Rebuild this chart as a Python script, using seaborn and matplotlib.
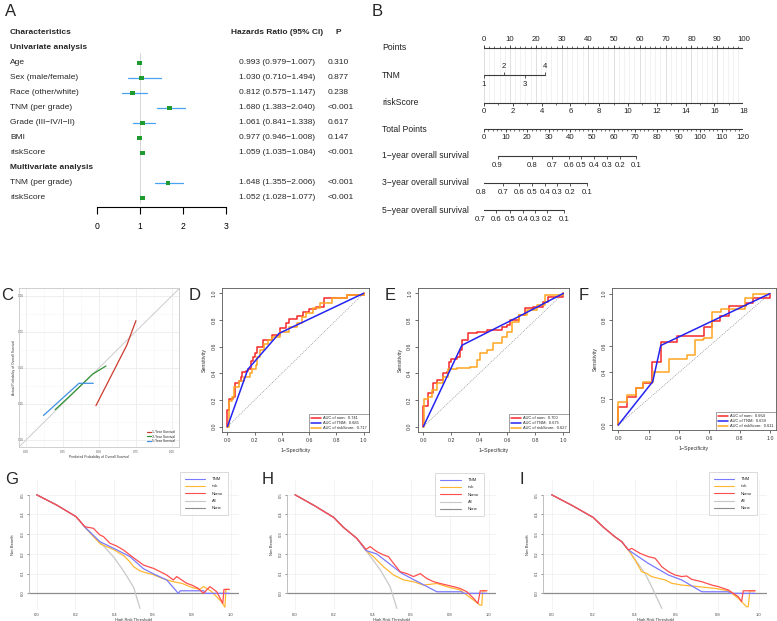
import matplotlib
matplotlib.use("Agg")
import matplotlib.pyplot as plt
import matplotlib.transforms as mtransforms
from matplotlib.lines import Line2D
import seaborn as sns

sns.set_theme(style="white")
plt.rcParams["font.family"] = ["Liberation Sans", "DejaVu Sans"]
plt.rcParams["axes.unicode_minus"] = True

# ---------------- data ----------------
# A: Cox regression (forest plot)
fp_labels = ["Age", "Sex (male/female)", "Race (other/white)", "TNM (per grade)",
             "Grade (III\u2212IV/I\u2212II)", "BMI", "riskScore", "TNM (per grade)", "riskScore"]
fp_hr = [0.993, 1.030, 0.812, 1.680, 1.061, 0.977, 1.059, 1.648, 1.052]
fp_lo = [0.979, 0.710, 0.575, 1.383, 0.841, 0.946, 1.035, 1.355, 1.028]
fp_hi = [1.007, 1.494, 1.147, 2.040, 1.338, 1.008, 1.084, 2.006, 1.077]
fp_p = ["0.310", "0.877", "0.238", "<0.001", "0.617", "0.147", "<0.001", "<0.001", "<0.001"]
fp_rows = [2, 3, 4, 5, 6, 7, 8, 10, 11]

# B: nomogram
pts_ticks = [0, 10, 20, 30, 40, 50, 60, 70, 80, 90, 100]
tnm_levels = ["1", "2", "3", "4"]
tnm_points = [0, 7.8, 15.7, 23.6]
risk_ticks = [0, 2, 4, 6, 8, 10, 12, 14, 16, 18]
total_ticks = [0, 10, 20, 30, 40, 50, 60, 70, 80, 90, 100, 110, 120]
surv1_prob = [0.9, 0.8, 0.7, 0.6, 0.5, 0.4, 0.3, 0.2, 0.1]
surv1_tp = [6.3, 22.1, 31.6, 39.2, 45.0, 51.0, 56.9, 62.9, 70.3]
surv3_prob = [0.8, 0.7, 0.6, 0.5, 0.4, 0.3, 0.2, 0.1]
surv3_tp = [-1.1, 9.0, 16.0, 22.4, 28.1, 33.9, 39.9, 47.5]
surv5_prob = [0.7, 0.6, 0.5, 0.4, 0.3, 0.2, 0.1]
surv5_tp = [-1.8, 5.7, 11.9, 17.9, 23.6, 29.3, 37.2]

# C: calibration
cal1_pred = [0.479, 0.690, 0.753]
cal1_obs = [0.238, 0.656, 0.827]
cal3_pred = [0.20, 0.308, 0.457, 0.548]
cal3_obs = [0.21, 0.312, 0.457, 0.513]
cal5_pred = [0.12, 0.363, 0.461]
cal5_obs = [0.17, 0.393, 0.393]

# D-F: ROC (fpr, tpr)
rocD_nom = ([0, 0, 0.015, 0.04, 0.059, 0.088, 0.1, 0.109, 0.138, 0.15, 0.17, 0.19, 0.2, 0.217, 0.26,
             0.33, 0.385, 0.43, 0.454, 0.51, 0.558, 0.6, 0.652, 0.706, 0.88, 1.0],
            [0, 0.125, 0.21, 0.22, 0.325, 0.34, 0.375, 0.41, 0.415, 0.435, 0.49, 0.52, 0.55, 0.60, 0.65,
             0.69, 0.738, 0.775, 0.81, 0.83, 0.863, 0.88, 0.9, 0.963, 0.99, 1.0])
rocD_tnm = ([0, 0.15, 0.38, 1.0], [0, 0.43, 0.70, 1.0])
rocD_risk = ([0, 0.01, 0.035, 0.05, 0.088, 0.12, 0.163, 0.18, 0.207, 0.22, 0.237, 0.27, 0.3, 0.324,
              0.385, 0.45, 0.51, 0.55, 0.58, 0.63, 0.68, 0.77, 0.88, 1.0],
             [0, 0.19, 0.22, 0.3, 0.34, 0.37, 0.4, 0.43, 0.46, 0.52, 0.575, 0.62, 0.65, 0.675,
              0.71, 0.745, 0.775, 0.82, 0.85, 0.89, 0.925, 0.963, 0.99, 1.0])
rocE_nom = ([0, 0, 0.036, 0.071, 0.095, 0.138, 0.167, 0.184, 0.2, 0.24, 0.262, 0.274, 0.321, 0.381,
             0.452, 0.56, 0.595, 0.62, 0.68, 0.726, 0.786, 0.857, 0.893, 1.0],
            [0, 0.155, 0.25, 0.325, 0.35, 0.4, 0.41, 0.488, 0.51, 0.52, 0.575, 0.65, 0.70, 0.71,
             0.725, 0.75, 0.76, 0.8, 0.838, 0.888, 0.9, 0.938, 0.975, 1.0])
rocE_tnm = ([0, 0.275, 0.68, 1.0], [0, 0.61, 0.825, 1.0])
rocE_risk = ([0, 0.007, 0.036, 0.06, 0.095, 0.143, 0.179, 0.238, 0.333, 0.381, 0.405, 0.452, 0.5,
              0.56, 0.595, 0.631, 0.68, 0.74, 0.81, 0.869, 1.0],
             [0, 0.21, 0.225, 0.275, 0.325, 0.375, 0.43, 0.438, 0.45, 0.50, 0.55, 0.575, 0.625,
              0.675, 0.713, 0.788, 0.838, 0.875, 0.913, 0.988, 1.0])
rocF_nom = ([0, 0, 0.06, 0.115, 0.165, 0.22, 0.28, 0.39, 0.565, 0.62, 0.671, 0.731, 0.84, 0.89, 1.0],
            [0, 0.14, 0.21, 0.28, 0.32, 0.48, 0.635, 0.675, 0.743, 0.793, 0.83, 0.906, 0.93, 0.97, 1.0])
rocF_tnm = ([0, 0.227, 0.28, 1.0], [0, 0.33, 0.605, 1.0])
rocF_risk = ([0, 0, 0.055, 0.115, 0.165, 0.231, 0.337, 0.45, 0.506, 0.561, 0.565, 0.616, 0.675,
              0.835, 0.89, 1.0],
             [0, 0.175, 0.225, 0.28, 0.33, 0.40, 0.505, 0.53, 0.643, 0.655, 0.665, 0.857, 0.88,
              0.97, 0.995, 1.0])
aucD = [0.741, 0.685, 0.717]
aucE = [0.700, 0.675, 0.627]
aucF = [0.664, 0.639, 0.611]

# G-I: decision curves (threshold, net benefit)
dcaG_nom = ([0, 0.103, 0.203, 0.249, 0.292, 0.326, 0.344, 0.378, 0.412, 0.447, 0.481, 0.515, 0.55, 0.575,
             0.601, 0.636, 0.67, 0.704, 0.722, 0.747, 0.773, 0.799, 0.833, 0.859, 0.893, 0.928, 0.959,
             0.965, 0.993],
            [0.5, 0.448, 0.389, 0.338, 0.33, 0.296, 0.288, 0.254, 0.24, 0.22, 0.194, 0.169, 0.144, 0.135,
             0.127, 0.11, 0.093, 0.068, 0.085, 0.068, 0.051, 0.042, 0.025, 0.0, 0.034, 0.008, -0.051,
             0.02, 0.02])
dcaG_tnm = ([0, 0.103, 0.203, 0.249, 0.326, 0.404, 0.481, 0.55, 0.6, 0.67, 0.73, 0.74, 0.86, 0.87, 0.993],
            [0.5, 0.448, 0.389, 0.335, 0.262, 0.225, 0.186, 0.125, 0.1, 0.068, 0.0, 0.013, 0.013, 0.0, 0.0])
dcaG_risk = ([0, 0.103, 0.203, 0.249, 0.3, 0.33, 0.4, 0.45, 0.48, 0.5, 0.53, 0.56, 0.6, 0.65, 0.7, 0.75,
              0.8, 0.84, 0.86, 0.9, 0.95, 0.97, 0.975, 0.99],
             [0.5, 0.448, 0.389, 0.335, 0.28, 0.25, 0.22, 0.19, 0.16, 0.135, 0.115, 0.105, 0.095, 0.075,
              0.06, 0.05, 0.03, 0.02, 0.035, 0.01, -0.04, -0.07, 0.02, 0.02])
dcaG_all = ([0, 0.103, 0.203, 0.249, 0.3, 0.35, 0.4, 0.45, 0.5, 0.532],
            [0.5, 0.448, 0.389, 0.338, 0.285, 0.235, 0.18, 0.11, 0.03, -0.076])

dcaH_nom = ([0, 0.1, 0.2, 0.25, 0.319, 0.367, 0.388, 0.422, 0.457, 0.483, 0.509, 0.543, 0.578, 0.612,
             0.647, 0.681, 0.716, 0.75, 0.784, 0.819, 0.853, 0.888, 0.922, 0.945, 0.957, 0.991],
            [0.5, 0.445, 0.385, 0.335, 0.279, 0.223, 0.237, 0.212, 0.195, 0.186, 0.152, 0.11, 0.1, 0.085,
             0.1, 0.075, 0.059, 0.05, 0.042, 0.034, 0.025, 0.008, -0.025, -0.051, 0.013, 0.013])
dcaH_tnm = ([0, 0.1, 0.2, 0.25, 0.319, 0.367, 0.422, 0.552, 0.733, 0.86, 0.87, 0.991],
            [0.5, 0.445, 0.385, 0.335, 0.279, 0.217, 0.2, 0.101, 0.008, 0.008, 0.0, 0.0])
dcaH_risk = ([0, 0.1, 0.2, 0.25, 0.319, 0.367, 0.405, 0.457, 0.509, 0.561, 0.612, 0.664, 0.733, 0.784,
              0.853, 0.922, 0.957, 0.965, 0.97, 0.991],
             [0.5, 0.445, 0.385, 0.335, 0.279, 0.217, 0.186, 0.135, 0.093, 0.068, 0.059, 0.042, 0.05,
              0.034, 0.017, -0.034, -0.06, -0.06, 0.013, 0.013])
dcaH_all = ([0, 0.1, 0.2, 0.25, 0.319, 0.367, 0.44, 0.491, 0.526],
            [0.5, 0.445, 0.385, 0.335, 0.279, 0.217, 0.12, 0.034, -0.076])

dcaI_nom = ([0, 0.1, 0.2, 0.25, 0.305, 0.338, 0.37, 0.386, 0.426, 0.466, 0.499, 0.531, 0.563, 0.595,
             0.627, 0.651, 0.675, 0.724, 0.772, 0.804, 0.852, 0.9, 0.916, 0.924, 0.981],
            [0.5, 0.445, 0.385, 0.335, 0.287, 0.262, 0.22, 0.228, 0.203, 0.186, 0.178, 0.135, 0.11, 0.093,
             0.085, 0.088, 0.071, 0.059, 0.042, 0.034, 0.017, -0.017, -0.042, 0.013, 0.013])
dcaI_tnm = ([0, 0.1, 0.2, 0.25, 0.305, 0.338, 0.37, 0.466, 0.563, 0.627, 0.724, 0.852, 0.86, 0.981],
            [0.5, 0.445, 0.385, 0.335, 0.287, 0.262, 0.22, 0.152, 0.093, 0.068, 0.008, 0.008, 0.0, 0.0])
dcaI_risk = ([0, 0.1, 0.2, 0.25, 0.305, 0.338, 0.37, 0.402, 0.434, 0.458, 0.482, 0.515, 0.547, 0.579,
              0.627, 0.708, 0.788, 0.852, 0.9, 0.94, 0.948, 0.956, 0.981],
             [0.5, 0.445, 0.385, 0.335, 0.287, 0.262, 0.22, 0.169, 0.11, 0.101, 0.085, 0.076, 0.068,
              0.051, 0.042, 0.034, 0.025, 0.013, -0.025, -0.068, -0.068, 0.013, 0.013])
dcaI_all = ([0, 0.1, 0.2, 0.25, 0.305, 0.338, 0.37, 0.45, 0.482, 0.531],
            [0.5, 0.445, 0.385, 0.335, 0.287, 0.262, 0.22, 0.101, 0.034, -0.076])

dca_names = ["TNM", "risk", "Nomo", "All", "None"]

# ---------------- layout helpers ----------------
W, H = 777, 621
fig = plt.figure(figsize=(W / 100, H / 100), dpi=100)
fig.patch.set_facecolor("white")


def box(x0, y0, x1, y1):
    return [x0 / W, 1 - y1 / H, (x1 - x0) / W, (y1 - y0) / H]


def fx(px):
    return px / W


for letter, (px, py) in {"A": (11, 11), "B": (377, 11), "C": (7, 296), "D": (195, 296),
                         "E": (390, 296), "F": (584, 296), "G": (12, 480), "H": (268, 480),
                         "I": (522, 479)}.items():
    fig.text(px / W, 1 - py / H, letter, fontsize=12, ha="center", va="center")

# ---------------- A: forest plot ----------------
axA = fig.add_axes(box(97.3, 25, 226, 207))
axA.set_xlim(0, 3)
axA.set_ylim(11.6, -0.53)
axA.plot([1, 1], [1.35, 11.35], color="#d5d5d5", lw=0.7, zorder=1)
for r, lo, hi in zip(fp_rows, fp_lo, fp_hi):
    axA.plot([lo, hi], [r, r], color="#4aa3f0", lw=0.9, zorder=2)
sns.scatterplot(x=fp_hr, y=fp_rows, marker="s", s=12, color="#1f9a2e", edgecolor="none",
                linewidth=0, ax=axA, zorder=3, legend=False)
for s in ["top", "right", "left"]:
    axA.spines[s].set_visible(False)
axA.spines["bottom"].set_bounds(0, 3)
axA.spines["bottom"].set_color("black")
axA.spines["bottom"].set_linewidth(0.8)
axA.set_xticks([0, 1, 2, 3])
axA.set_yticks([])
axA.tick_params(axis="x", direction="out", length=5, width=0.8, pad=6, labelsize=6.2, colors="black",
                bottom=True)
tA = mtransforms.blended_transform_factory(fig.transFigure, axA.transData)
fsA = 6.0
axA.text(fx(10), 0, "Characteristics", transform=tA, fontsize=fsA, weight="bold", va="center")
axA.text(fx(231), 0, "Hazards Ratio (95% CI)", transform=tA, fontsize=fsA, weight="bold", va="center")
axA.text(fx(335), 0, "P", transform=tA, fontsize=fsA, weight="bold", va="center")
axA.text(fx(10), 1, "Univariate analysis", transform=tA, fontsize=fsA, weight="bold", va="center")
axA.text(fx(10), 9, "Multivariate analysis", transform=tA, fontsize=fsA, weight="bold", va="center")
for r, lab, h, lo, hi, p in zip(fp_rows, fp_labels, fp_hr, fp_lo, fp_hi, fp_p):
    axA.text(fx(10), r, lab, transform=tA, fontsize=fsA, va="center")
    axA.text(fx(239), r, f"{h:.3f} ({lo:.3f}\u2212{hi:.3f})", transform=tA, fontsize=fsA, va="center")
    axA.text(fx(328), r, p, transform=tA, fontsize=fsA, va="center")

# ---------------- B: nomogram ----------------
axB = fig.add_axes(box(484, 25, 743.3, 228))
axB.set_xlim(0, 100)
axB.set_ylim(228, 25)
axB.axis("off")
tB = mtransforms.blended_transform_factory(fig.transFigure, axB.transData)
ink = "#3a3a3a"
fsB = 6.2
y_pts, y_tnm, y_risk, y_tot, y_s1, y_s3, y_s5 = 47.7, 75.3, 102.7, 129.3, 155.7, 182.7, 210

# faint vertical guide lines
for v in range(0, 101, 2):
    axB.plot([v, v], [y_pts, y_risk], color="#d9d9d9" if v % 10 == 0 else "#efefef", lw=0.6, zorder=0)

row_labels = [("Points", y_pts), ("TNM", y_tnm), ("riskScore", y_risk), ("Total Points", y_tot),
              ("1\u2212year overall survival", y_s1), ("3\u2212year overall survival", y_s3),
              ("5\u2212year overall survival", y_s5)]
for lab, yy in row_labels:
    axB.text(fx(382), yy, lab, transform=tB, fontsize=fsB, va="center", color="#222222")


def nomo_axis(y, xs, labels, up, minor=None, lab_off=8.5):
    axB.plot([min(xs), max(xs)], [y, y], color=ink, lw=0.8)
    s = -1 if up else 1
    if minor is not None:
        axB.vlines(minor, y, y + s * 1.8, color=ink, lw=0.5)
    axB.vlines(xs, y, y + s * 3, color=ink, lw=0.6)
    for x, lab in zip(xs, labels):
        axB.text(x, y + s * lab_off, lab, ha="center", va="center", fontsize=5.6, color="#222222")


nomo_axis(y_pts, pts_ticks, [str(v) for v in pts_ticks], up=True, minor=list(range(0, 101, 2)))
# TNM: alternating label sides
axB.plot([min(tnm_points), max(tnm_points)], [y_tnm, y_tnm], color=ink, lw=0.8)
for i, (x, lab) in enumerate(zip(tnm_points, tnm_levels)):
    s = 1 if i % 2 == 0 else -1
    axB.vlines(x, y_tnm, y_tnm + s * 3, color=ink, lw=0.6)
    axB.text(x, y_tnm + s * 9, lab, ha="center", va="center", fontsize=5.6, color="#222222")
nomo_axis(y_risk, [v * 100 / 18 for v in risk_ticks], [str(v) for v in risk_ticks], up=False,
          minor=[v * 100 / 18 for v in range(0, 19)])
nomo_axis(y_tot, [v * 100 / 120 for v in total_ticks], [str(v) for v in total_ticks], up=False,
          minor=[v * 100 / 120 for v in range(0, 121, 2)])
for yy, tp, pr in [(y_s1, surv1_tp, surv1_prob), (y_s3, surv3_tp, surv3_prob), (y_s5, surv5_tp, surv5_prob)]:
    nomo_axis(yy, [v * 100 / 120 for v in tp], [f"{p:.1f}" for p in pr], up=False, lab_off=9.5)

# ---------------- C: calibration ----------------
axC = fig.add_axes(box(18.7, 288.5, 179.3, 447.2))
axC.set_facecolor("white")
axC.set_xlim(-0.05, 1.05)
axC.set_ylim(-0.05, 1.05)
ct = [0, 0.25, 0.5, 0.75, 1.0]
axC.set_xticks(ct)
axC.set_yticks(ct)
axC.set_xticklabels([f"{v:.2f}" for v in ct])
axC.set_yticklabels([f"{v:.2f}" for v in ct])
axC.set_xticks([0.125, 0.375, 0.625, 0.875], minor=True)
axC.set_yticks([0.125, 0.375, 0.625, 0.875], minor=True)
axC.grid(which="major", color="#ebebeb", lw=0.6)
axC.grid(which="minor", color="#f5f5f5", lw=0.4)
axC.tick_params(which="both", length=1.2, width=0.4, labelsize=2.2, pad=0.8, colors="#555555")
axC.tick_params(axis="y", pad=-5.0)
axC.tick_params(which="minor", length=0)
for s in axC.spines.values():
    s.set_color("#c8c8c8")
    s.set_linewidth(0.6)
axC.plot([-0.05, 1.05], [-0.05, 1.05], color="#c4c4c4", lw=0.6, zorder=1)
sns.lineplot(x=cal1_pred, y=cal1_obs, ax=axC, color="#cc3b2e", lw=0.9, sort=False, estimator=None,
             label="1-Year Survival")
sns.lineplot(x=cal3_pred, y=cal3_obs, ax=axC, color="#2e9130", lw=0.9, sort=False, estimator=None,
             label="3-Year Survival")
sns.lineplot(x=cal5_pred, y=cal5_obs, ax=axC, color="#3f8fe0", lw=0.9, sort=False, estimator=None,
             label="5-Year Survival")
axC.legend(loc="lower right", fontsize=2.4, frameon=False, handlelength=1.2, handletextpad=0.5,
           labelspacing=0.2, borderaxespad=0.8)
axC.set_xlabel("Predicted Probability of Overall Survival", fontsize=2.4, labelpad=1, color="#333333")
axC.set_ylabel("Actual Probability of Overall Survival", fontsize=2.4, labelpad=1, color="#333333")

# ---------------- D-F: ROC ----------------
c_nom, c_tnm, c_risk = "#f52828", "#2424f2", "#ffa51f"


def draw_roc(rect, nom, tnm, risk, aucs):
    ax = fig.add_axes(rect)
    ax.set_facecolor("white")
    ax.set_xlim(-0.04, 1.04)
    ax.set_ylim(-0.04, 1.04)
    ax.plot([0, 1], [0, 1], color="#8f8f8f", lw=0.5, ls=(0, (1.5, 1.5)))
    sns.lineplot(x=nom[0], y=nom[1], ax=ax, color=c_nom, lw=1.1, drawstyle="steps-post",
                 sort=False, estimator=None)
    sns.lineplot(x=risk[0], y=risk[1], ax=ax, color=c_risk, lw=1.1, drawstyle="steps-post",
                 sort=False, estimator=None)
    sns.lineplot(x=tnm[0], y=tnm[1], ax=ax, color=c_tnm, lw=1.1, sort=False, estimator=None)
    tk = [0, 0.2, 0.4, 0.6, 0.8, 1.0]
    ax.set_xticks(tk)
    ax.set_yticks(tk)
    ax.set_xticklabels([f"{v:.1f}" for v in tk])
    ax.set_yticklabels([f"{v:.1f}" for v in tk], rotation=90, va="center")
    ax.tick_params(direction="out", length=2.5, width=0.5, labelsize=3.8, pad=1.5, colors="#333333",
                   bottom=True, left=True)
    for s in ax.spines.values():
        s.set_color("#555555")
        s.set_linewidth(0.6)
    ax.set_xlabel("1\u2212Specificity", fontsize=3.8, labelpad=4, color="#333333")
    ax.set_ylabel("Sensitivity", fontsize=3.8, labelpad=3, color="#333333")
    handles = [Line2D([], [], color=c, lw=1.1) for c in (c_nom, c_tnm, c_risk)]
    labels = [f"AUC of nom:  {aucs[0]:.3f}", f"AUC of TNM:  {aucs[1]:.3f}",
              f"AUC of riskScore:  {aucs[2]:.3f}"]
    leg = ax.legend(handles, labels, loc="lower right", fontsize=2.9, frameon=True, fancybox=False,
                    handlelength=2.6, handletextpad=0.5, labelspacing=0.25, borderaxespad=0,
                    borderpad=0.5)
    leg.get_frame().set_edgecolor("#333333")
    leg.get_frame().set_linewidth(0.4)
    return ax


draw_roc(box(222, 288, 369, 432), rocD_nom, rocD_tnm, rocD_risk, aucD)
draw_roc(box(417.7, 288, 569, 432), rocE_nom, rocE_tnm, rocE_risk, aucE)
draw_roc(box(612.2, 288.3, 776, 430.3), rocF_nom, rocF_tnm, rocF_risk, aucF)

# ---------------- G-I: decision curves ----------------
d_nom, d_tnm, d_risk, d_all, d_none = "#ff4d4d", "#7a7aff", "#ffb733", "#c8c8c8", "#8c8c8c"


def draw_dca(rect, nom, tnm, risk, allc, anchor):
    ax = fig.add_axes(rect)
    ax.set_facecolor("white")
    ax.set_xlim(-0.04, 1.04)
    ax.set_ylim(-0.084, 0.574)
    xt = [0, 0.2, 0.4, 0.6, 0.8, 1.0]
    yt = [0, 0.1, 0.2, 0.3, 0.4, 0.5]
    ax.set_xticks(xt)
    ax.set_yticks(yt)
    ax.set_xticklabels([f"{v:.1f}" for v in xt])
    ax.set_yticklabels([f"{v:.1f}" for v in yt], rotation=90, va="center")
    ax.grid(color="#eeeeee", lw=0.5)
    ax.axhline(0, color=d_none, lw=0.9)
    sns.lineplot(x=allc[0], y=allc[1], ax=ax, color=d_all, lw=0.9, sort=False, estimator=None)
    sns.lineplot(x=risk[0], y=risk[1], ax=ax, color=d_risk, lw=0.9, sort=False, estimator=None)
    sns.lineplot(x=tnm[0], y=tnm[1], ax=ax, color=d_tnm, lw=0.9, sort=False, estimator=None)
    sns.lineplot(x=nom[0], y=nom[1], ax=ax, color=d_nom, lw=0.9, sort=False, estimator=None)
    for s in ["top", "right", "bottom"]:
        ax.spines[s].set_visible(False)
    ax.spines["left"].set_bounds(0, 0.5)
    ax.spines["left"].set_color("#b5b5b5")
    ax.spines["left"].set_linewidth(0.6)
    ax.tick_params(direction="out", length=1.5, width=0.4, labelsize=3.0, pad=1.5, colors="#444444",
                   left=True, bottom=False)
    ax.tick_params(axis="x", pad=0.6)
    ax.set_xlabel("High Risk Threshold", fontsize=3.0, labelpad=0.6, color="#333333")
    ax.set_ylabel("Net Benefit", fontsize=3.0, labelpad=4, color="#333333")
    handles = [Line2D([], [], color=c, lw=0.8) for c in (d_tnm, d_risk, d_nom, d_all, d_none)]
    leg = ax.legend(handles, dca_names, loc="upper right", bbox_to_anchor=anchor, fontsize=3.0,
                    frameon=True, fancybox=False, handlelength=5.0, handletextpad=1.6,
                    labelspacing=0.8, borderpad=1.2, borderaxespad=0)
    leg.get_frame().set_edgecolor("#c0c0c0")
    leg.get_frame().set_linewidth(0.5)
    return ax


draw_dca(box(28.9, 480.2, 238.5, 609.9), dcaG_nom, dcaG_tnm, dcaG_risk, dcaG_all, (0.95, 1.063))
draw_dca(box(287.3, 480.2, 496.3, 609.9), dcaH_nom, dcaH_tnm, dcaH_risk, dcaH_all, (0.941, 1.055))
draw_dca(box(543.4, 480.2, 767.3, 609.9), dcaI_nom, dcaI_tnm, dcaI_risk, dcaI_all, (0.954, 1.063))

fig.savefig("out.png", dpi=100, facecolor="white")
